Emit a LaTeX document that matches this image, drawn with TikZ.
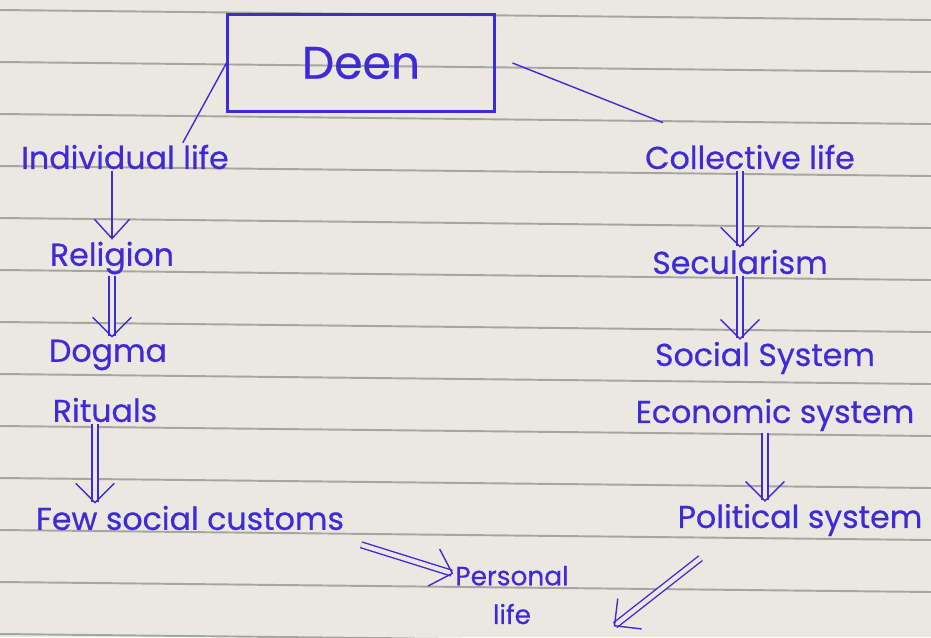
\documentclass[tikz,border=0pt]{standalone}
\usepackage{fontspec}
\setmainfont{Poppins}
\newfontfamily\inkfont{Poppins}[FakeBold=0.5]
\usepackage{xcolor}
\usetikzlibrary{arrows.meta}
\definecolor{ink}{RGB}{62,42,214}
\definecolor{paper}{RGB}{234,232,224}
\definecolor{rule}{RGB}{165,165,162}

\begin{document}
\begin{tikzpicture}[x=0.02cm,y=-0.02cm,
    lbl/.style={text=ink, font=\inkfont\fontsize{18}{20}\selectfont, inner sep=1pt},
    sgl/.style={draw=ink, thick, -{Straight Barb[length=11pt,width=20pt]}},
    dbl/.style={draw=ink, thick, double=paper, double distance=2.5pt, -{Straight Barb[length=11pt,width=22pt]}}]
                \useasboundingbox (0,0) rectangle (931,637);
                \fill[paper] (0,0) rectangle (931,637);
                \foreach \y in {10,62,...,640}
                    \draw[rule, line width=1.1pt] (0,\y) -- (931,\y+10);
                % top box
                \node[draw=ink, very thick, minimum width=5.34cm, minimum height=1.94cm, lbl, font=\inkfont\fontsize{26}{28}\selectfont] (deen) at (361,63) {Deen};
                % left column
                \node[lbl] (indiv) at (125,157) {Individual life};
                \node[lbl] (relig) at (112,258) {Religion};
                \node[lbl] (dogma) at (108,355) {Dogma};
                \node[lbl] (ritual) at (105,410) {Rituals};
                \node[lbl] (custom) at (190,518) {Few social customs};
                \node[lbl, align=center, font=\inkfont\fontsize{15}{22}\selectfont] (personal) at (512,595) {Personal\\life};
                % right column
                \node[lbl] (coll) at (750,157) {Collective life};
                \node[lbl] (secul) at (740,262) {Secularism};
                \node[lbl] (social) at (765,358) {Social System};
                \node[lbl] (econ) at (775,415) {Economic system};
                \node[lbl] (polit) at (800,520) {Political system};
                % connectors
                \draw[ink, thick] (deen.west) -- ([xshift=-0.96cm]indiv.north east);
                \draw[ink, thick] ([xshift=0.34cm]deen.east) -- ([xshift=0.4cm,yshift=0.4cm]coll.north west);
                \draw[sgl] (relig.north |- indiv.south) -- (relig.north);
                \draw[dbl] (relig.south) -- (relig.south |- dogma.north);
                \draw[dbl] ([xshift=-0.2cm]ritual.south) -- ([xshift=-0.2cm]ritual.south |- custom.north);
                \draw[dbl] ([xshift=0.3cm,yshift=-0.25cm]custom.south east) -- (personal.160);
                \draw[dbl] (secul.north |- coll.south) -- (secul.north);
                \draw[dbl] (secul.south) -- (secul.south |- social.north);
                \draw[dbl] ([xshift=-0.2cm]econ.south) -- ([xshift=-0.2cm]econ.south |- polit.north);
                \draw[dbl] ([xshift=0.5cm,yshift=-0.4cm]polit.south west) -- ([xshift=0.86cm]personal.south east);
            \end{tikzpicture}
\end{document}
